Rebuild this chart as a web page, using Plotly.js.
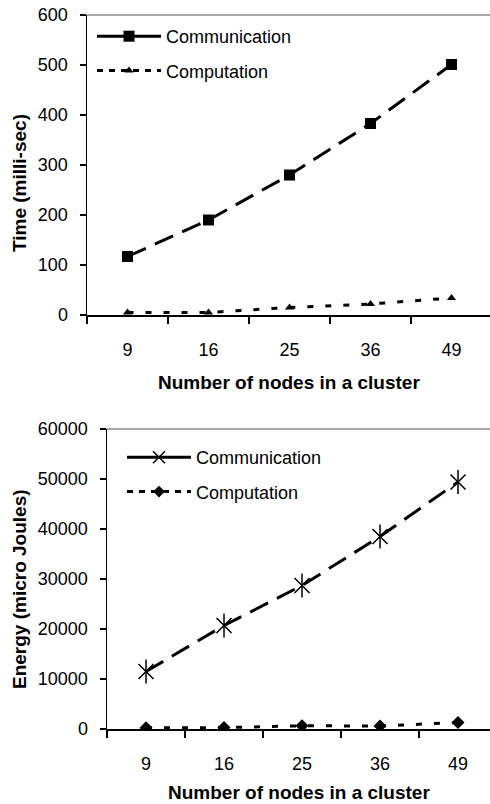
<!DOCTYPE html>
<html>
<head>
<meta charset="utf-8">
<script src="https://cdn.plot.ly/plotly-3.0.1.min.js"></script>
<style>html,body{margin:0;padding:0;background:#fff;}#chart{width:490px;height:804px;}</style>
</head>
<body>
<div id="chart"></div>
<script>
const nodes = ['9', '16', '25', '36', '49'];
const timeCommunication = [117, 190, 280, 383, 501];
const timeComputation = [5, 5, 15, 22, 34];
const energyCommunication = [11500, 20700, 28700, 38500, 49400];
const energyComputation = [250, 280, 650, 600, 1300];
const seriesNames = ['Communication', 'Computation'];
const xTitle = 'Number of nodes in a cluster';
const yTitleTime = 'Time (milli-sec)';
const yTitleEnergy = 'Energy (micro Joules)';

const FONT = 'Liberation Sans, Arial, sans-serif';
const longDash = '20px,10px';
const shortDash = '6px,12px';

const traces = [
  // top chart
  {x: nodes, y: timeCommunication, xaxis: 'x', yaxis: 'y', mode: 'lines+markers', showlegend: false,
   line: {color: '#000', width: 3, dash: longDash}, marker: {symbol: 'square', size: 11, color: '#000'}},
  {x: nodes, y: timeComputation, xaxis: 'x', yaxis: 'y', mode: 'lines+markers', showlegend: false,
   line: {color: '#000', width: 3, dash: shortDash}, marker: {symbol: 'triangle-up', size: 8, color: '#000'}},
  // legend entries for top chart
  {x: [null], y: [null], xaxis: 'x', yaxis: 'y', name: seriesNames[0], legend: 'legend', legendgroup: 'a',
   mode: 'lines+markers', line: {color: '#000', width: 3}, marker: {symbol: 'square', size: 11, color: '#000'}},
  {x: [null], y: [null], xaxis: 'x', yaxis: 'y', name: seriesNames[1], legend: 'legend', legendgroup: 'b',
   mode: 'lines+markers', line: {color: '#000', width: 3, dash: '6px,6px'}, marker: {symbol: 'triangle-up', size: 8, color: '#000'}},
  // bottom chart
  {x: nodes, y: energyCommunication, xaxis: 'x2', yaxis: 'y2', mode: 'lines+markers', showlegend: false,
   line: {color: '#000', width: 3, dash: longDash}, marker: {symbol: 'x-thin-open', size: 15, color: '#000', line: {width: 1.5, color: '#000'}}},
  {x: nodes, y: energyCommunication, xaxis: 'x2', yaxis: 'y2', mode: 'markers', showlegend: false,
   marker: {symbol: 'line-ns-open', size: 17, color: '#000', line: {width: 1.5, color: '#000'}}},
  {x: nodes, y: energyComputation, xaxis: 'x2', yaxis: 'y2', mode: 'lines+markers', showlegend: false,
   line: {color: '#000', width: 3, dash: shortDash}, marker: {symbol: 'diamond', size: 10, color: '#000'}},
  {x: [null], y: [null], xaxis: 'x2', yaxis: 'y2', name: seriesNames[0], legend: 'legend2', legendgroup: 'c',
   mode: 'lines+markers', line: {color: '#000', width: 3}, marker: {symbol: 'x-thin-open', size: 12, color: '#000', line: {width: 1.5, color: '#000'}}},
  {x: [null], y: [null], xaxis: 'x2', yaxis: 'y2', name: seriesNames[1], legend: 'legend2', legendgroup: 'd',
   mode: 'lines+markers', line: {color: '#000', width: 3, dash: '6px,6px'}, marker: {symbol: 'diamond', size: 9, color: '#000'}}
];

const xBase = {
  type: 'category', showgrid: false, zeroline: false, showline: true, linecolor: '#000', linewidth: 1.5,
  ticks: 'outside', tickson: 'boundaries', ticklen: 7, tickwidth: 1.5, tickcolor: '#000',
  tickfont: {family: FONT, size: 18, color: '#000'}, ticklabelstandoff: 18, fixedrange: true
};
const yBase = {
  showgrid: false, zeroline: false, showline: true, linecolor: '#000', linewidth: 1.5,
  ticks: 'outside', ticklen: 6, tickwidth: 1.5, tickcolor: '#000',
  tickfont: {family: FONT, size: 18, color: '#000'}, ticklabelstandoff: 8, tickformat: 'd', fixedrange: true
};

const legendBase = {
  font: {family: FONT, size: 18, color: '#000'}, bgcolor: 'rgba(0,0,0,0)', borderwidth: 0,
  traceorder: 'grouped', tracegroupgap: 8, itemwidth: 64, xanchor: 'left', yanchor: 'top'
};

const layout = {
  width: 490, height: 804, margin: {l: 0, r: 0, t: 0, b: 0},
  paper_bgcolor: '#fff', plot_bgcolor: '#fff', font: {family: FONT, size: 18, color: '#000'},
  xaxis: Object.assign({}, xBase, {domain: [87/490, 1], range: [-0.5, 4.475], anchor: 'y'}),
  yaxis: Object.assign({}, yBase, {domain: [1 - 315/804, 1 - 15/804], range: [0, 600], dtick: 100, anchor: 'x'}),
  xaxis2: Object.assign({}, xBase, {domain: [107/490, 1], range: [-0.5, 4.41], anchor: 'y2'}),
  yaxis2: Object.assign({}, yBase, {domain: [1 - 729/804, 1 - 429/804], range: [0, 60000], dtick: 10000, anchor: 'x2'}),
  legend: Object.assign({}, legendBase, {x: 92/490, y: 1 - 18/804}),
  legend2: Object.assign({}, legendBase, {x: 122/490, y: 1 - 439/804}),
  shapes: [
    {type: 'line', xref: 'x domain', yref: 'y domain', x0: 0, x1: 1, y0: 1, y1: 1, line: {color: '#888', width: 1.5}},
    {type: 'line', xref: 'x2 domain', yref: 'y2 domain', x0: 0, x1: 1, y0: 1, y1: 1, line: {color: '#888', width: 1.5}}
  ],
  annotations: [
    {text: '<b>' + xTitle + '</b>', xref: 'x domain', yref: 'paper', x: 0.5, y: 1 - 382/804, xanchor: 'center', yanchor: 'middle', showarrow: false, font: {family: FONT, size: 19, color: '#000'}},
    {text: '<b>' + xTitle + '</b>', xref: 'x2 domain', yref: 'paper', x: 0.5, y: 1 - 792/804, xanchor: 'center', yanchor: 'middle', showarrow: false, font: {family: FONT, size: 19, color: '#000'}},
    {text: '<b>' + yTitleTime + '</b>', xref: 'paper', yref: 'paper', x: 19/490, y: 1 - 183/804, xanchor: 'center', yanchor: 'middle', textangle: -90, showarrow: false, font: {family: FONT, size: 19, color: '#000'}},
    {text: '<b>' + yTitleEnergy + '</b>', xref: 'paper', yref: 'paper', x: 19/490, y: 1 - 589/804, xanchor: 'center', yanchor: 'middle', textangle: -90, showarrow: false, font: {family: FONT, size: 19, color: '#000'}}
  ]
};

Plotly.newPlot('chart', traces, layout, {displayModeBar: false, staticPlot: true});
</script>
</body>
</html>
